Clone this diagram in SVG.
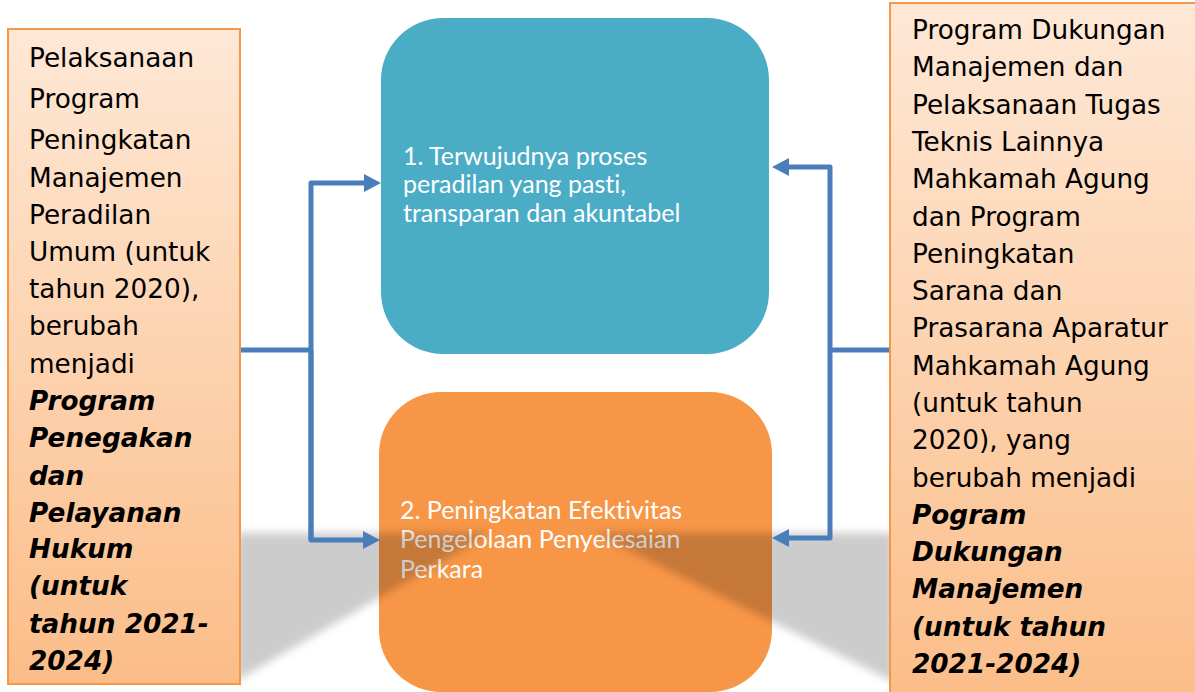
<svg xmlns="http://www.w3.org/2000/svg" width="1195" height="692" viewBox="0 0 1195 692">
  <defs>
    <linearGradient id="peach" x1="0" y1="0" x2="0" y2="1">
      <stop offset="0" stop-color="#fee8d6"/>
      <stop offset="1" stop-color="#fbbd88"/>
    </linearGradient>
    <filter id="blur" x="-10%" y="-20%" width="120%" height="140%">
      <feGaussianBlur stdDeviation="4"/>
    </filter>
    <marker id="arrow" markerUnits="userSpaceOnUse" markerWidth="18" markerHeight="18" viewBox="0 0 18 18" refX="1" refY="9" orient="auto">
      <path d="M0,0 L17,9 L0,18 z" fill="#4a7ebb"/>
    </marker>
  </defs>
  <style>
    .side { fill: url(#peach); stroke: #f79646; stroke-width: 2; }
    .txt { font-family: "DejaVu Sans", Verdana, sans-serif; font-size: 26.3px; fill: #000; }
    .bi { font-weight: bold; font-style: italic; }
    .ctxt { font-family: Lato, "Open Sans", sans-serif; font-size: 25px; fill: #fff; font-variant-ligatures: none; font-feature-settings: "liga" 0, "dlig" 0; }
    .conn { fill: none; stroke: #4a7ebb; stroke-width: 5; stroke-linejoin: round; }
  </style>
  <rect width="1195" height="692" fill="#fff"/>

  <g id="node-goal1">
    <rect x="381" y="18" width="388" height="336" rx="62" ry="62" fill="#4bacc6"/>
    <text class="ctxt" x="403" y="165">1. Terwujudnya proses</text>
    <text class="ctxt" x="403" y="193">peradilan yang pasti,</text>
    <text class="ctxt" x="403" y="222">transparan dan akuntabel</text>
  </g>

  <g id="node-goal2">
    <rect x="379" y="392" width="393" height="300" rx="62" ry="62" fill="#f79646"/>
    <text class="ctxt" x="400" y="519">2. Peningkatan Efektivitas</text>
    <text class="ctxt" x="400" y="548">Pengelolaan Penyelesaian</text>
    <text class="ctxt" x="400" y="578">Perkara</text>
  </g>

  <g id="shadow" filter="url(#blur)" fill="#000" fill-opacity="0.2">
    <polygon points="236,533 491,533 236,681"/>
    <polygon points="594,533 894,533 894,682"/>
  </g>

  <g id="connectors">
    <path class="conn" d="M240,350 H311"/>
    <path class="conn" d="M311,540 V183 H365" marker-end="url(#arrow)"/>
    <path class="conn" d="M311,350 V540 H364" marker-end="url(#arrow)"/>
    <path class="conn" d="M890,350 H830"/>
    <path class="conn" d="M830,350 V167 H788" marker-end="url(#arrow)"/>
    <path class="conn" d="M830,350 V538 H788" marker-end="url(#arrow)"/>
  </g>

  <g id="node-left">
    <rect class="side" x="8" y="29" width="232" height="655"/>
    <text class="txt" x="29" y="67">Pelaksanaan</text>
    <text class="txt" x="29" y="108">Program</text>
    <text class="txt" x="29" y="149">Peningkatan</text>
    <text class="txt" x="29" y="187">Manajemen</text>
    <text class="txt" x="29" y="224">Peradilan</text>
    <text class="txt" x="29" y="261">Umum (untuk</text>
    <text class="txt" x="29" y="298">tahun 2020),</text>
    <text class="txt" x="29" y="335">berubah</text>
    <text class="txt" x="29" y="373">menjadi</text>
    <text class="txt bi" x="29" y="410">Program</text>
    <text class="txt bi" x="29" y="447">Penegakan</text>
    <text class="txt bi" x="29" y="485">dan</text>
    <text class="txt bi" x="29" y="522">Pelayanan</text>
    <text class="txt bi" x="29" y="558">Hukum</text>
    <text class="txt bi" x="29" y="595">(untuk</text>
    <text class="txt bi" x="29" y="633">tahun 2021-</text>
    <text class="txt bi" x="29" y="670">2024)</text>
  </g>

  <g id="node-right">
    <rect class="side" x="890" y="3" width="310" height="700"/>
    <text class="txt" x="912" y="39">Program Dukungan</text>
    <text class="txt" x="912" y="76">Manajemen dan</text>
    <text class="txt" x="912" y="114">Pelaksanaan Tugas</text>
    <text class="txt" x="912" y="151">Teknis Lainnya</text>
    <text class="txt" x="912" y="188">Mahkamah Agung</text>
    <text class="txt" x="912" y="226">dan Program</text>
    <text class="txt" x="912" y="263">Peningkatan</text>
    <text class="txt" x="912" y="300">Sarana dan</text>
    <text class="txt" x="912" y="337">Prasarana Aparatur</text>
    <text class="txt" x="912" y="375">Mahkamah Agung</text>
    <text class="txt" x="912" y="412">(untuk tahun</text>
    <text class="txt" x="912" y="449">2020), yang</text>
    <text class="txt" x="912" y="487">berubah menjadi</text>
    <text class="txt bi" x="912" y="524">Pogram</text>
    <text class="txt bi" x="912" y="561">Dukungan</text>
    <text class="txt bi" x="912" y="598">Manajemen</text>
    <text class="txt bi" x="912" y="636">(untuk tahun</text>
    <text class="txt bi" x="912" y="673">2021-2024)</text>
  </g>
</svg>
